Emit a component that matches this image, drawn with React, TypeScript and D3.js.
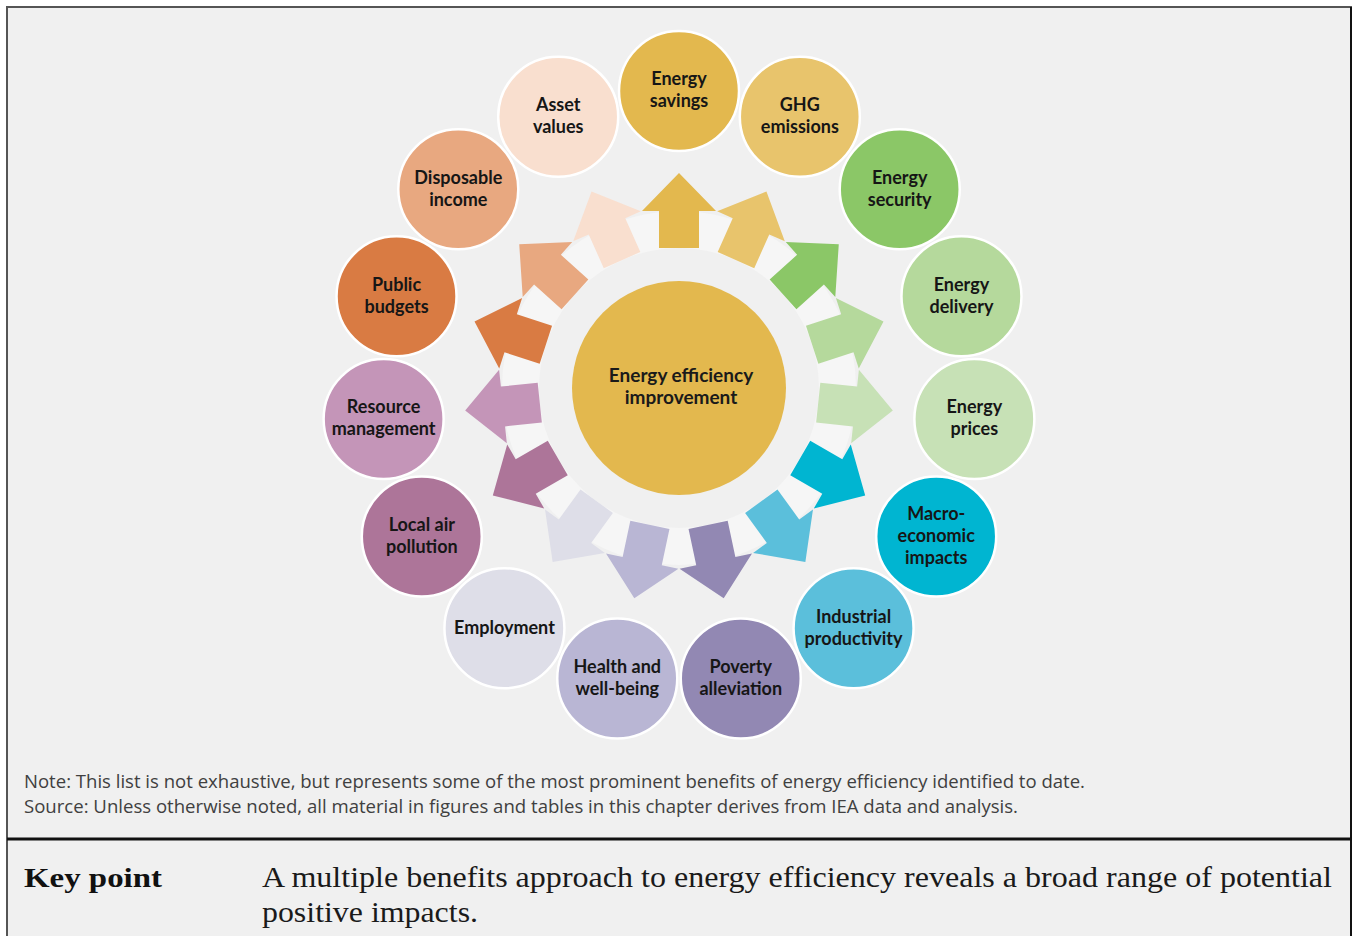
import React from "react";
import * as d3 from "d3";

const benefitLabels: string[][] = [
  ["Energy", "savings"],
  ["GHG", "emissions"],
  ["Energy", "security"],
  ["Energy", "delivery"],
  ["Energy", "prices"],
  ["Macro-", "economic", "impacts"],
  ["Industrial", "productivity"],
  ["Poverty", "alleviation"],
  ["Health and", "well-being"],
  ["Employment"],
  ["Local air", "pollution"],
  ["Resource", "management"],
  ["Public", "budgets"],
  ["Disposable", "income"],
  ["Asset", "values"],
];

const benefitColors: string[] = [
  "#E3B84E",
  "#E8C46C",
  "#8BC767",
  "#B5D99C",
  "#C7E1B6",
  "#00B5D1",
  "#5BBFDB",
  "#9288B3",
  "#B9B6D4",
  "#DEDEE8",
  "#AD7599",
  "#C495B8",
  "#D97B43",
  "#E8A880",
  "#F9DFCF",
];

const centerLabel: string[] = ["Energy efficiency", "improvement"];
const centerColor = "#E3B84E";

const noteLines: string[] = [
  "Note: This list is not exhaustive, but represents some of the most prominent benefits of energy efficiency identified to date.",
  "Source: Unless otherwise noted, all material in figures and tables in this chapter derives from IEA data and analysis.",
];
const keyTitle = "Key point";
const keyLines: string[] = [
  "A multiple benefits approach to energy efficiency reveals a broad range of potential",
  "positive impacts.",
];

const W = 1352;
const H = 936;
const CX = 679;
const CY = 388;

export default function App() {
  const n = benefitLabels.length;
  const angle = d3.scaleLinear().domain([0, n]).range([0, 360]);
  const orbit = 297;
  const outerR = 60;
  const centerR = 107;

  // arrow geometry (local coords, pointing up = outward)
  const r0 = 140, r1 = 177, r2 = 215;
  const shaftHW = 20, headHW = 37;
  const arrowPts: [number, number][] = [
    [-shaftHW, -r0],
    [-shaftHW, -r1],
    [-headHW, -r1],
    [0, -r2],
    [headHW, -r1],
    [shaftHW, -r1],
    [shaftHW, -r0],
  ];
  const arrowPath = d3.line()(arrowPts) + "Z";
  const ring = d3.arc()({
    innerRadius: r0,
    outerRadius: r1,
    startAngle: 0,
    endAngle: Math.PI * 2,
  } as any) as string;

  const fontLabel = "Lato, 'Open Sans', sans-serif";

  return (
    <svg
      width={W}
      height={H}
      style={{ position: "absolute", left: 0, top: 0 }}
      xmlns="http://www.w3.org/2000/svg"
    >
      <rect x={0} y={0} width={W} height={H} fill="#ffffff" />
      <rect x={7} y={7} width={1344} height={H} fill="#F0F0F0" stroke="#555" strokeWidth={2} />
      <line x1={1351} y1={7} x2={1351} y2={H} stroke="#111" strokeWidth={2} />

      {/* white ring under arrows */}
      <path d={ring} transform={`translate(${CX},${CY})`} fill="#F6F6F6" />

      {/* arrows */}
      {benefitLabels.map((_, i) => (
        <path
          key={"a" + i}
          d={arrowPath}
          fill={benefitColors[i]}
          transform={`translate(${CX},${CY}) rotate(${angle(i)})`}
        />
      ))}

      {/* center */}
      <circle cx={CX} cy={CY} r={centerR} fill={centerColor} />
      {centerLabel.map((t, j) => (
        <text
          key={"c" + j}
          x={CX + 2}
          y={CY - 13 + j * 22 + 7}
          textAnchor="middle"
          fontFamily={fontLabel}
          fontWeight="bold"
          fontSize={19}
          fill="#1a1a1a"
        >
          {t}
        </text>
      ))}

      {/* outer circles */}
      {benefitLabels.map((lines, i) => {
        const a = (angle(i) * Math.PI) / 180;
        const x = CX + orbit * Math.sin(a);
        const y = CY - orbit * Math.cos(a);
        const lh = 22;
        const y0 = y - ((lines.length - 1) * lh) / 2;
        return (
          <g key={"o" + i}>
            <circle cx={x} cy={y} r={outerR} fill={benefitColors[i]} stroke="#ffffff" strokeWidth={2.5} />
            {lines.map((t, j) => (
              <text
                key={j}
                x={x}
                y={y0 + j * lh - 1}
                dy="0.35em"
                textAnchor="middle"
                fontFamily={fontLabel}
                fontWeight="bold"
                fontSize={18}
                fill="#161616"
              >
                {t}
              </text>
            ))}
          </g>
        );
      })}

      {/* notes */}
      {noteLines.map((t, j) => (
        <text
          key={"n" + j}
          x={24}
          y={788 + j * 25}
          fontFamily="'Open Sans', sans-serif"
          fontSize={18}
          fill="#404040"
          textLength={j === 0 ? 1061 : 994}
          lengthAdjust="spacingAndGlyphs"
        >
          {t}
        </text>
      ))}

      <line x1={7} y1={839} x2={1352} y2={839} stroke="#111" strokeWidth={3} />

      <text
        x={24}
        y={887}
        fontFamily="'Liberation Serif', serif"
        fontWeight="bold"
        fontSize={28}
        fill="#111"
        textLength={138}
        lengthAdjust="spacingAndGlyphs"
      >
        {keyTitle}
      </text>
      {keyLines.map((t, j) => (
        <text
          key={"k" + j}
          x={262}
          y={887 + j * 35}
          fontFamily="'Liberation Serif', serif"
          fontSize={29}
          fill="#1a1a1a"
          textLength={j === 0 ? 1070 : 216}
          lengthAdjust="spacingAndGlyphs"
        >
          {t}
        </text>
      ))}
    </svg>
  );
}
